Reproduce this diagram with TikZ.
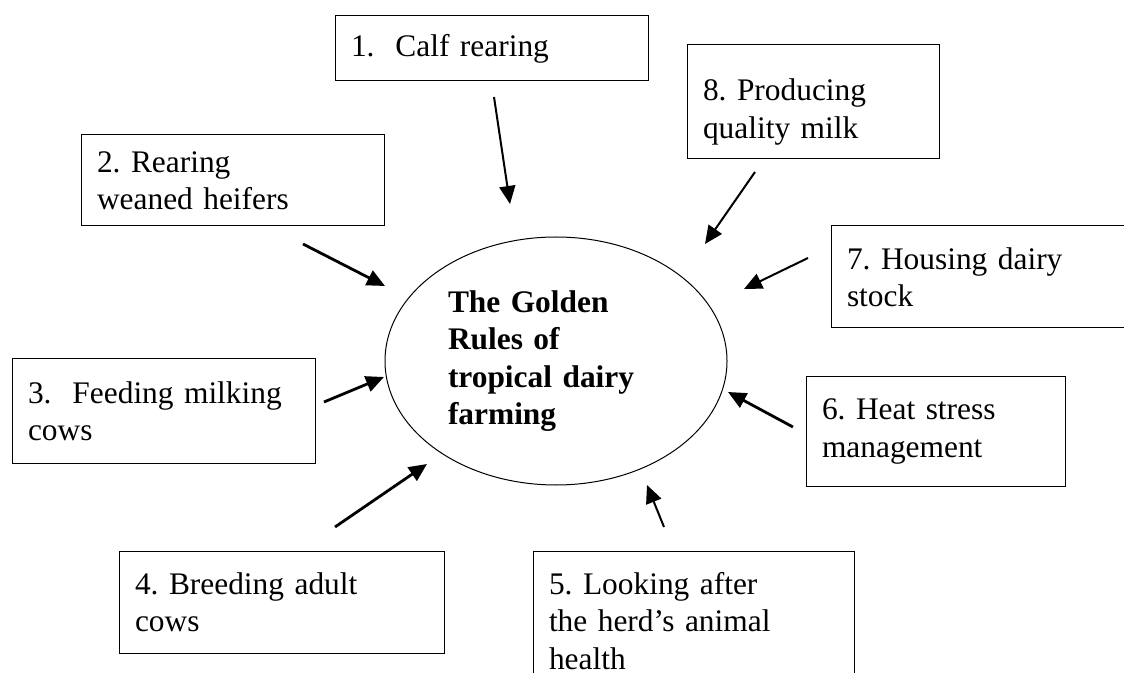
\documentclass[tikz,border=0pt]{standalone}
\usepackage{fontspec}
\setmainfont{Liberation Serif}
\usetikzlibrary{shapes.geometric,arrows.meta}

\newcommand{\rulefont}{\frenchspacing\fontsize{15.7}{18.6}\selectfont}

\tikzset{
  topic/.style={draw, line width=0.5pt, rectangle, anchor=north west, align=left,
    inner xsep=8pt, inner ysep=0pt, outer sep=0pt, font=\rulefont},
  arr/.style={-{Triangle[length=9pt,width=8pt]}, line width=1pt},
  fatarr/.style={arr, line width=1.4pt}
}

\begin{document}
\begin{tikzpicture}[x=0.5pt,y=-0.5pt]
          \useasboundingbox (0,0) rectangle (1124,673);
          \clip (0,0) rectangle (1124,673);

          \node[draw, ellipse, line width=0.5pt, minimum width=171pt, minimum height=124pt,
            text width=108pt, align=left, font=\rulefont\bfseries] (rules) at (556,361)
            {The Golden\\Rules of\\tropical dairy\\farming};

          \node[topic, text width=140.5pt, minimum height=32.5pt] (calf) at (335,16) {1.\ \ Calf rearing};
          \node[topic, text width=135.5pt, minimum height=45.5pt] (heifers) at (81,135) {2. Rearing\\weaned heifers};
          \node[topic, text width=135.5pt, minimum height=52pt] (feeding) at (12,359) {3.\ \ Feeding milking\\cows};
          \node[topic, text width=146.5pt, minimum height=51pt] (breeding) at (119,551) {4. Breeding adult\\cows};
          \node[topic, text width=144.5pt, minimum height=70pt] (health) at (533,551) {5. Looking after\\the herd’s animal\\health};
          \node[topic, text width=113.5pt, minimum height=54.5pt] (heat) at (806,377) {6. Heat stress\\management};
          \node[topic, text width=139pt, minimum height=51pt] (housing) at (831,226) {7. Housing dairy\\stock};
          \node[topic, text width=110pt, minimum height=57pt, text depth=12pt] (milk) at (687,45) {8. Producing\\quality milk};

          \coordinate (calf-a) at (494,97);      \coordinate (calf-b) at (510,204);
          \coordinate (heifers-a) at (303,244);  \coordinate (heifers-b) at (385,286);
          \coordinate (feeding-a) at (324,402);  \coordinate (feeding-b) at (384,377);
          \coordinate (breeding-a) at (335,527); \coordinate (breeding-b) at (427,464);
          \coordinate (health-a) at (664,527);   \coordinate (health-b) at (647,485);
          \coordinate (heat-a) at (793,427);     \coordinate (heat-b) at (728,392);
          \coordinate (housing-a) at (808,258);  \coordinate (housing-b) at (744,289);
          \coordinate (milk-a) at (755,172);     \coordinate (milk-b) at (705,244);

          \foreach \n/\s in {calf/arr,heifers/fatarr,feeding/fatarr,breeding/fatarr,
                             health/arr,heat/fatarr,housing/arr,milk/arr}{
            \draw[\s] (\n-a) -- (\n-b);
          }
        \end{tikzpicture}
\end{document}
